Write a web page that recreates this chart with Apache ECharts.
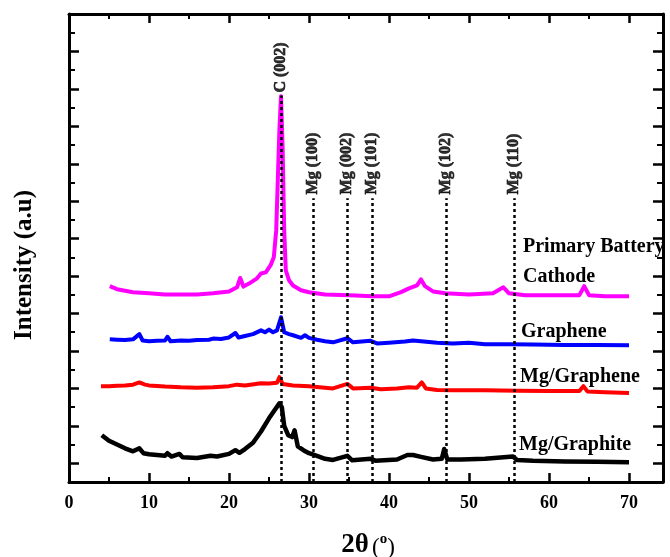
<!DOCTYPE html>
<html>
<head>
<meta charset="utf-8">
<script src="https://cdn.jsdelivr.net/npm/echarts@6/dist/echarts.min.js"></script>
<style>
  html, body { margin: 0; padding: 0; background: #fff; }
  #chart { width: 670px; height: 557px; }
</style>
</head>
<body>
<div id="chart"></div>
<script>
  // XRD patterns, [2theta, offset intensity]
  const mgGraphite = [
    [4.1, 0.75], [5, 0.6], [6, 0.5], [7, 0.4], [8, 0.32], [8.8, 0.4], [9.3, 0.27], [10, 0.24],
    [11, 0.22], [12, 0.2], [12.3, 0.27], [12.8, 0.18], [13.8, 0.25], [14.2, 0.16], [16, 0.14],
    [17.7, 0.2], [18.5, 0.18], [20, 0.25], [20.8, 0.35], [21.3, 0.28], [22, 0.38], [23, 0.55],
    [24, 0.85], [25, 1.2], [25.8, 1.45], [26.3, 1.6], [26.6, 1.5], [26.9, 1.0], [27.4, 0.75],
    [27.9, 0.7], [28.2, 0.88], [28.6, 0.45], [29.3, 0.35], [30, 0.27], [31, 0.2], [32, 0.12],
    [33, 0.09], [34.8, 0.2], [35.4, 0.08], [37.7, 0.12], [38.3, 0.07], [41, 0.1], [42.3, 0.22],
    [43, 0.22], [44, 0.17], [45.5, 0.1], [46.6, 0.12], [46.9, 0.38], [47.3, 0.1], [49, 0.1],
    [52, 0.12], [55.5, 0.18], [56, 0.09], [58, 0.07], [62, 0.05], [66, 0.04], [70, 0.03]
  ];
  const mgGraphene = [
    [4.0, 2.06], [5, 2.06], [6, 2.07], [7, 2.08], [8, 2.1], [8.8, 2.16], [9.5, 2.1], [10, 2.08],
    [12, 2.05], [14, 2.03], [16, 2.02], [18, 2.03], [20, 2.06], [21, 2.1], [22, 2.08], [24, 2.14],
    [25, 2.13], [26, 2.15], [26.3, 2.3], [26.7, 2.12], [28, 2.08], [30, 2.06], [32, 2.02],
    [33, 2.0], [34.8, 2.12], [35.5, 2.0], [37.7, 2.02], [39, 1.98], [41, 2.0], [42.5, 2.03],
    [43.5, 2.02], [44.1, 2.16], [44.6, 2.0], [46, 1.96], [48, 1.95], [52, 1.95], [56, 1.94],
    [60, 1.93], [63.8, 1.93], [64.3, 2.06], [64.8, 1.92], [67, 1.9], [70, 1.88]
  ];
  const graphene = [
    [5.1, 3.31], [6, 3.3], [7, 3.29], [8, 3.31], [8.8, 3.45], [9.2, 3.28], [10, 3.26], [11, 3.27],
    [12, 3.28], [12.3, 3.38], [12.7, 3.26], [14, 3.28], [15, 3.27], [16, 3.29], [17.5, 3.3],
    [18, 3.33], [19, 3.32], [20, 3.36], [20.8, 3.48], [21.2, 3.36], [22, 3.4], [23, 3.45],
    [24, 3.55], [24.5, 3.5], [25, 3.57], [25.5, 3.5], [26, 3.55], [26.5, 3.9], [26.9, 3.5],
    [27.5, 3.45], [28, 3.42], [29, 3.35], [29.5, 3.42], [30, 3.35], [31, 3.3], [32, 3.26],
    [33, 3.23], [34.8, 3.34], [35.5, 3.23], [37.7, 3.27], [38.5, 3.2], [40, 3.22], [42, 3.25],
    [43, 3.28], [44, 3.26], [46, 3.22], [48, 3.2], [50, 3.22], [52, 3.18], [55, 3.18],
    [58, 3.17], [62, 3.16], [66, 3.16], [70, 3.15]
  ];
  const cathode = [
    [5.1, 4.73], [6, 4.65], [8, 4.57], [10, 4.54], [12, 4.51], [14, 4.51], [16, 4.51], [18, 4.54],
    [20, 4.59], [21.0, 4.7], [21.4, 4.95], [21.8, 4.72], [22.5, 4.8], [23.5, 4.94], [24, 5.07],
    [24.6, 5.1], [25.2, 5.29], [25.6, 5.5], [25.9, 6.22], [26.1, 7.56], [26.3, 8.9], [26.5, 9.8],
    [26.7, 8.44], [26.9, 6.22], [27.1, 5.15], [27.5, 4.89], [28, 4.75], [29, 4.62], [30, 4.57],
    [32, 4.51], [35, 4.49], [38, 4.46], [40, 4.46], [41.5, 4.57], [42.5, 4.67], [43.5, 4.75],
    [44, 4.91], [44.5, 4.73], [45.5, 4.59], [47, 4.54], [50, 4.51], [53, 4.54], [54.3, 4.7],
    [55, 4.54], [57, 4.49], [60, 4.49], [63.8, 4.49], [64.4, 4.73], [65, 4.49], [67, 4.46],
    [70, 4.46]
  ];
  const peakPos = [26.5, 30.5, 34.75, 37.9, 47.1, 55.6];
  const peakNames = ['C (002)', 'Mg (100)', 'Mg (002)', 'Mg (101)', 'Mg (102)', 'Mg (110)'];
  const xTicks = [0, 10, 20, 30, 40, 50, 60, 70];

  const serif = 'Liberation Serif, Times New Roman, serif';
  const chart = echarts.init(document.getElementById('chart'));

  const xBase = {
    type: 'value', min: 0, max: 74.25, interval: 10,
    axisLine: { onZero: false, lineStyle: { color: '#000', width: 3 } },
    axisTick: { inside: true, length: 9, lineStyle: { color: '#000', width: 2.5 } },
    minorTick: { show: true, splitNumber: 2, length: 5, lineStyle: { color: '#000', width: 2 } },
    splitLine: { show: false }
  };
  const yMinor = {
    type: 'value', min: -0.5, max: 12, interval: 1,
    axisLine: { show: true, onZero: false, lineStyle: { color: '#000', width: 3 } },
    axisTick: { inside: true, length: 6, lineStyle: { color: '#000', width: 2 } },
    axisLabel: { show: false },
    splitLine: { show: false }
  };
  // inverse axis so its ticks start from the top (major positions)
  const yMajor = {
    type: 'value', min: 0, max: 12.5, interval: 1, inverse: true,
    axisLine: { show: false, onZero: false },
    axisTick: { inside: true, length: 10, lineStyle: { color: '#000', width: 2.5 } },
    axisLabel: { show: false },
    splitLine: { show: false }
  };

  const lineSeries = (name, data, color, width) => ({
    name, type: 'line', data, showSymbol: false, symbol: 'none',
    lineStyle: { color, width, join: 'round' }, z: 3, animation: false
  });

  const nameText = (text, x, y) => ({
    type: 'text', x, y,
    style: { text, fontFamily: serif, fontWeight: 'bold', fontSize: 20, fill: '#000', verticalAlign: 'middle' }
  });

  const option = {
    animation: false,
    grid: { left: 69, right: 7, top: 14, bottom: 75 },
    xAxis: [
      Object.assign({}, xBase, {
        position: 'bottom',
        axisLabel: {
          margin: 12, color: '#000', fontFamily: serif, fontWeight: 'bold', fontSize: 18,
          showMaxLabel: false,
          formatter: v => (xTicks.indexOf(v) >= 0 ? String(v) : '')
        }
      }),
      Object.assign({}, xBase, { position: 'top', axisLabel: { show: false } })
    ],
    yAxis: [
      Object.assign({}, yMinor, { position: 'left' }),
      Object.assign({}, yMajor, { position: 'left' }),
      Object.assign({}, yMinor, { position: 'right' }),
      Object.assign({}, yMajor, { position: 'right' })
    ],
    series: [
      lineSeries('Mg/Graphite', mgGraphite, '#000000', 4.5),
      lineSeries('Mg/Graphene', mgGraphene, '#ff0000', 4),
      lineSeries('Graphene', graphene, '#0000ff', 4),
      lineSeries('Primary Battery Cathode', cathode, '#ff00ff', 4),
      {
        name: 'peaks', type: 'scatter', symbolSize: 0, z: 5,
        data: peakPos.map((x, i) => ({ value: [x, i === 0 ? 9.9 : 7.18], name: peakNames[i] })),
        label: {
          show: true, position: 'inside', rotate: 90, align: 'left', verticalAlign: 'middle',
          formatter: p => p.name,
          color: '#000', fontFamily: serif, fontWeight: 'bold', fontSize: 16,
          textBorderColor: '#000', textBorderWidth: 0.7
        },
        markLine: {
          silent: true, symbol: 'none', animation: false,
          label: { show: false },
          lineStyle: { color: '#000', width: 2.5, type: [3, 3] },
          data: peakPos.map((x, i) => [{ coord: [x, -0.5] }, { coord: [x, i === 0 ? 9.82 : 7.08] }])
        }
      }
    ],
    graphic: [
      {
        type: 'text', x: 25, y: 265, rotation: Math.PI / 2,
        style: {
          text: 'Intensity (a.u)', fontFamily: serif, fontWeight: 'bold', fontSize: 25,
          fill: '#000', align: 'center', verticalAlign: 'middle'
        }
      },
      {
        type: 'text', x: 368, y: 545,
        style: {
          text: '{a|2θ} {b|(}{c|o}{b|)}', align: 'center', verticalAlign: 'middle',
          rich: {
            a: { fontFamily: serif, fontWeight: 'bold', fontSize: 27, fill: '#000' },
            b: { fontFamily: serif, fontSize: 23, fill: '#000', padding: [5, 0, 0, 0] },
            c: { fontFamily: serif, fontWeight: 'bold', fontSize: 15, fill: '#000', padding: [0, 0, 12, 0] }
          }
        }
      },
      nameText('Primary Battery', 523, 247),
      nameText('Cathode', 523, 277),
      nameText('Graphene', 521, 332),
      nameText('Mg/Graphene', 520, 377),
      nameText('Mg/Graphite', 519, 445)
    ]
  };

  chart.setOption(option);
</script>
</body>
</html>
